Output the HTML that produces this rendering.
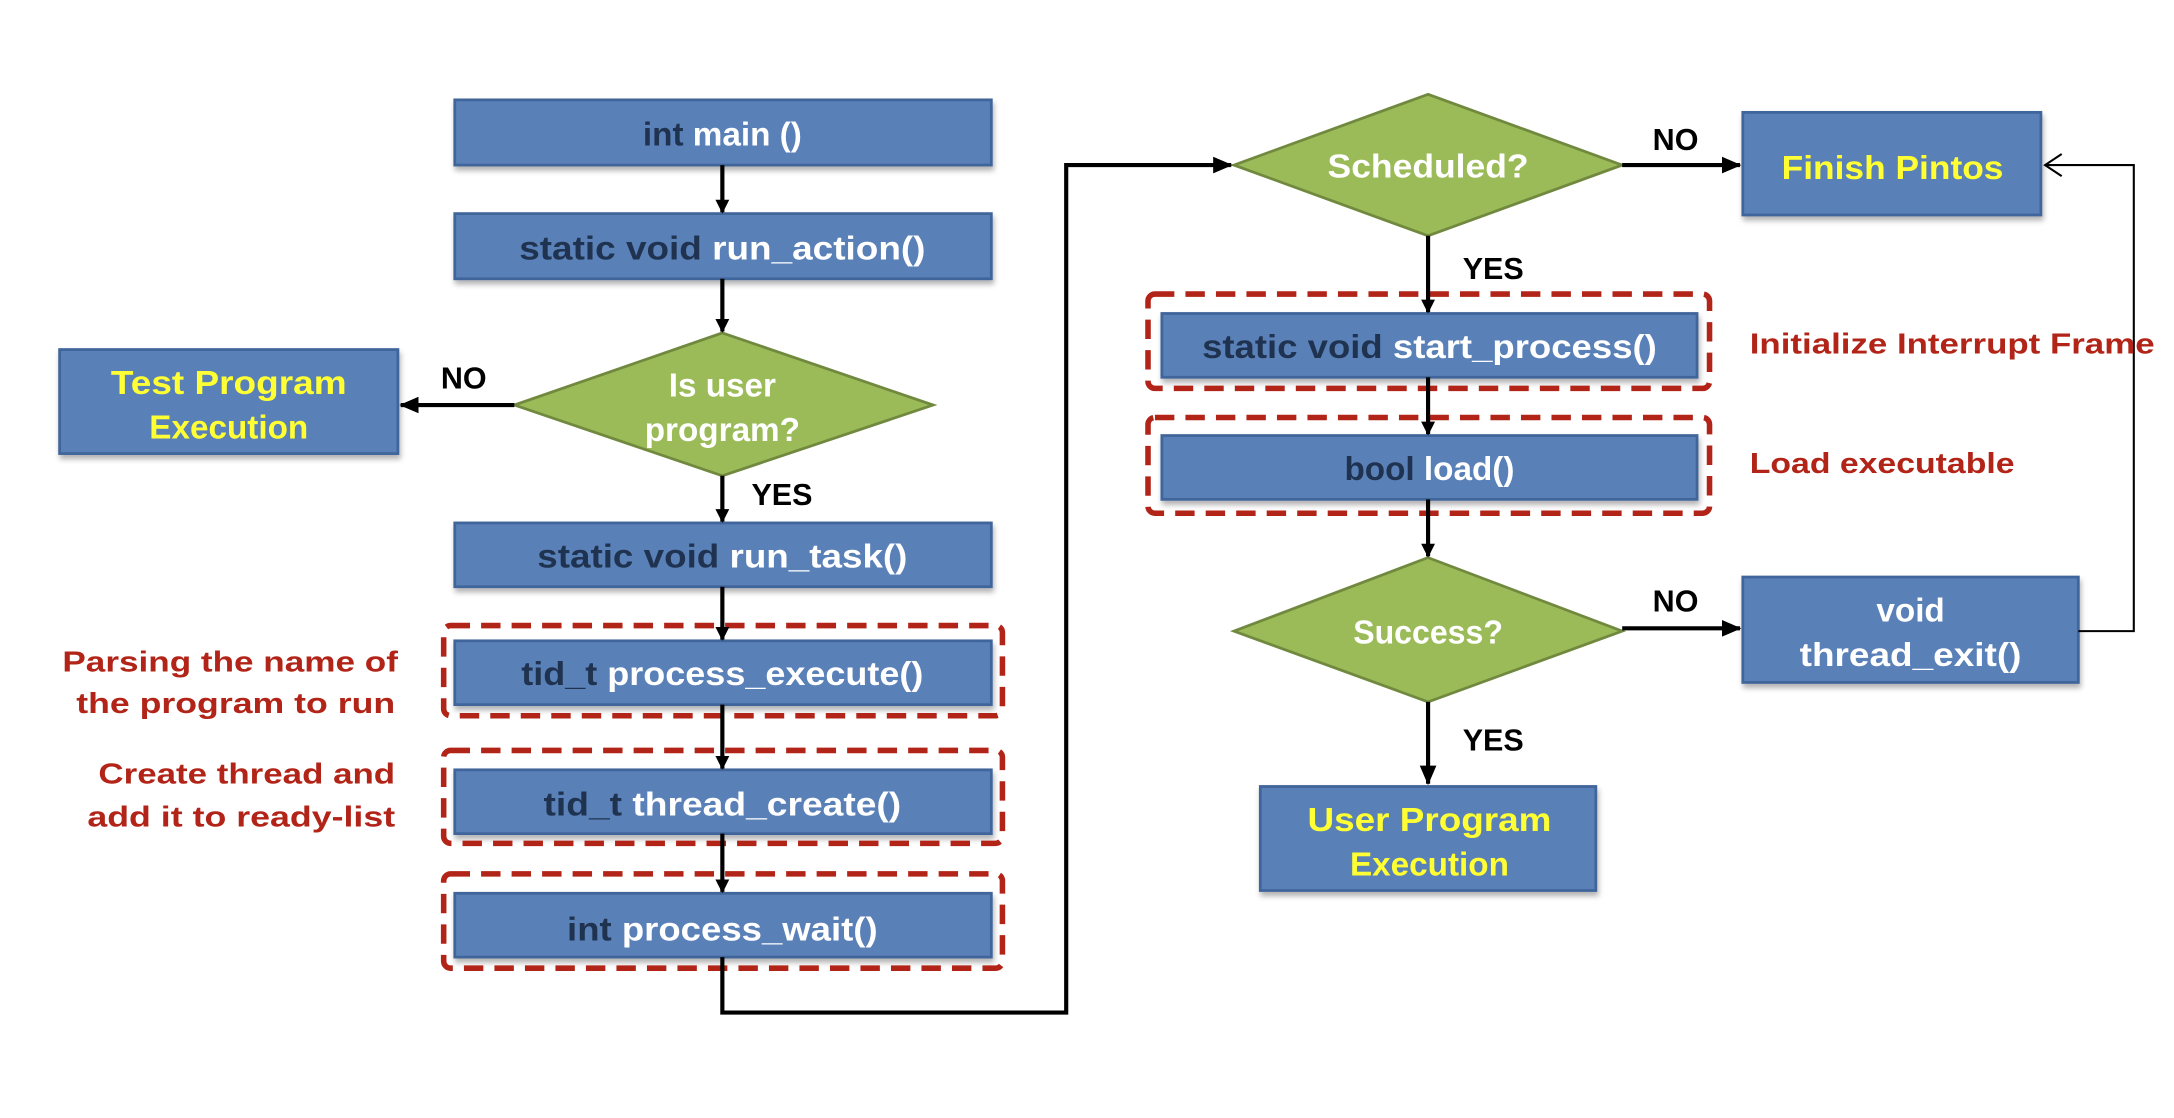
<!DOCTYPE html>
<html><head><meta charset="utf-8"><style>
html,body{margin:0;padding:0;background:#fff;}
svg{display:block;}
text{font-family:"Liberation Sans",sans-serif;font-weight:bold;}
</style></head><body>
<svg width="2174" height="1118" viewBox="0 0 1568 806" preserveAspectRatio="none" xmlns="http://www.w3.org/2000/svg">
<defs>
<marker id="a" markerWidth="10" markerHeight="10" refX="9" refY="5" orient="auto" markerUnits="userSpaceOnUse"><path d="M0,0 L10,5 L0,10 Z" fill="#000"/></marker>
<marker id="ab" markerWidth="14" markerHeight="14" refX="13" refY="7" orient="auto" markerUnits="userSpaceOnUse"><path d="M0,1 L14,7 L0,13 Z" fill="#000"/></marker>
<filter id="sh" x="-5%" y="-10%" width="110%" height="130%"><feDropShadow dx="1" dy="3" stdDeviation="2" flood-color="#000" flood-opacity="0.3"/></filter>
</defs>
<g fill="#5a80b8" stroke="#41659a" stroke-width="2" filter="url(#sh)">
<rect x="328" y="72" width="387" height="47"/>
<rect x="328" y="154" width="387" height="47"/>
<rect x="43" y="252" width="244" height="75"/>
<rect x="328" y="377" width="387" height="46"/>
<rect x="328" y="462" width="387" height="46"/>
<rect x="328" y="555" width="387" height="46"/>
<rect x="328" y="644" width="387" height="46"/>
<rect x="1257" y="81" width="215" height="74"/>
<rect x="838" y="226" width="386" height="46"/>
<rect x="838" y="314" width="386" height="46"/>
<rect x="1257" y="416" width="242" height="76"/>
<rect x="909" y="567" width="242" height="75"/>
</g>
<g fill="#9bbb59" stroke="#71893f" stroke-width="2">
<polygon points="521,240 673,292 521,343 371,292"/>
<polygon points="1030,68 1170,119 1030,170 890,119"/>
<polygon points="1030,402 1170,455 1030,506 890,455"/>
</g>
<g fill="none" stroke="#b22418" stroke-width="4" stroke-dasharray="14,8">
<rect x="320" y="451" width="403" height="65" rx="5"/>
<rect x="320" y="541" width="403" height="67" rx="5"/>
<rect x="320" y="630" width="403" height="68" rx="5"/>
<rect x="828" y="212" width="405" height="68" rx="5"/>
<rect x="828" y="301" width="405" height="69" rx="5"/>
</g>
<g stroke="#000" stroke-width="3" fill="none">
<line x1="521" y1="119" x2="521" y2="153" marker-end="url(#a)"/>
<line x1="521" y1="201" x2="521" y2="239" marker-end="url(#a)"/>
<line x1="371" y1="292" x2="289" y2="292" marker-end="url(#ab)"/>
<line x1="521" y1="343" x2="521" y2="376" marker-end="url(#a)"/>
<line x1="521" y1="423" x2="521" y2="461" marker-end="url(#a)"/>
<line x1="521" y1="508" x2="521" y2="554" marker-end="url(#a)"/>
<line x1="521" y1="601" x2="521" y2="643" marker-end="url(#a)"/>
<polyline points="521,690 521,730 769,730 769,119 888,119" marker-end="url(#ab)"/>
<line x1="1170" y1="119" x2="1255" y2="119" marker-end="url(#ab)"/>
<line x1="1030" y1="170" x2="1030" y2="225" marker-end="url(#a)"/>
<line x1="1030" y1="272" x2="1030" y2="313" marker-end="url(#a)"/>
<line x1="1030" y1="360" x2="1030" y2="401" marker-end="url(#a)"/>
<line x1="1170" y1="453" x2="1255" y2="453" marker-end="url(#ab)"/>
<line x1="1030" y1="506" x2="1030" y2="565" marker-end="url(#ab)"/>
</g>
<polyline points="1499,455 1539,455 1539,119 1476,119" fill="none" stroke="#000" stroke-width="1.5"/>
<polyline points="1487,111 1475,119 1487,127" fill="none" stroke="#000" stroke-width="1.5"/>
<g font-size="24" text-anchor="middle" fill="#fff">
<text x="521" y="105"><tspan fill="#1f3350">int</tspan> main ()</text>
<text x="521" y="187" textLength="293" lengthAdjust="spacingAndGlyphs"><tspan fill="#1f3350">static void</tspan> run_action()</text>
<text x="521" y="409" textLength="267" lengthAdjust="spacingAndGlyphs"><tspan fill="#1f3350">static void</tspan> run_task()</text>
<text x="521" y="494" textLength="290" lengthAdjust="spacingAndGlyphs"><tspan fill="#1f3350">tid_t</tspan> process_execute()</text>
<text x="521" y="588" textLength="258" lengthAdjust="spacingAndGlyphs"><tspan fill="#1f3350">tid_t</tspan> thread_create()</text>
<text x="521" y="678" textLength="224" lengthAdjust="spacingAndGlyphs"><tspan fill="#1f3350">int</tspan> process_wait()</text>
<text x="1031" y="258" textLength="328" lengthAdjust="spacingAndGlyphs"><tspan fill="#1f3350">static void</tspan> start_process()</text>
<text x="1031" y="346"><tspan fill="#1f3350">bool</tspan> load()</text>
<text x="1378" y="448">void</text>
<text x="1378" y="480" textLength="160" lengthAdjust="spacingAndGlyphs">thread_exit()</text>
<text x="521" y="286">Is user</text>
<text x="521" y="318">program?</text>
<text x="1030" y="128" textLength="145" lengthAdjust="spacingAndGlyphs">Scheduled?</text>
<text x="1030" y="464" textLength="108" lengthAdjust="spacingAndGlyphs">Success?</text>
<g fill="#ffff33">
<text x="165" y="284" textLength="170" lengthAdjust="spacingAndGlyphs">Test Program</text>
<text x="165" y="316">Execution</text>
<text x="1365" y="129" textLength="160" lengthAdjust="spacingAndGlyphs">Finish Pintos</text>
<text x="1031" y="599" textLength="176" lengthAdjust="spacingAndGlyphs">User Program</text>
<text x="1031" y="631">Execution</text>
</g>
</g>
<g font-size="22" fill="#000">
<text x="318" y="280">NO</text>
<text x="542" y="364">YES</text>
<text x="1192" y="108">NO</text>
<text x="1055" y="201">YES</text>
<text x="1192" y="441">NO</text>
<text x="1055" y="541">YES</text>
</g>
<g font-size="21" fill="#b22418">
<text x="1262" y="255" textLength="292" lengthAdjust="spacingAndGlyphs">Initialize  Interrupt Frame</text>
<text x="1262" y="341" textLength="191" lengthAdjust="spacingAndGlyphs">Load executable</text>
<g text-anchor="end">
<text x="287" y="484" textLength="242" lengthAdjust="spacingAndGlyphs">Parsing the name of</text>
<text x="285" y="514" textLength="230" lengthAdjust="spacingAndGlyphs">the program to run</text>
<text x="285" y="565" textLength="214" lengthAdjust="spacingAndGlyphs">Create thread and</text>
<text x="285" y="596" textLength="222" lengthAdjust="spacingAndGlyphs">add it to ready-list</text>
</g>
</g>
</svg>
</body></html>
